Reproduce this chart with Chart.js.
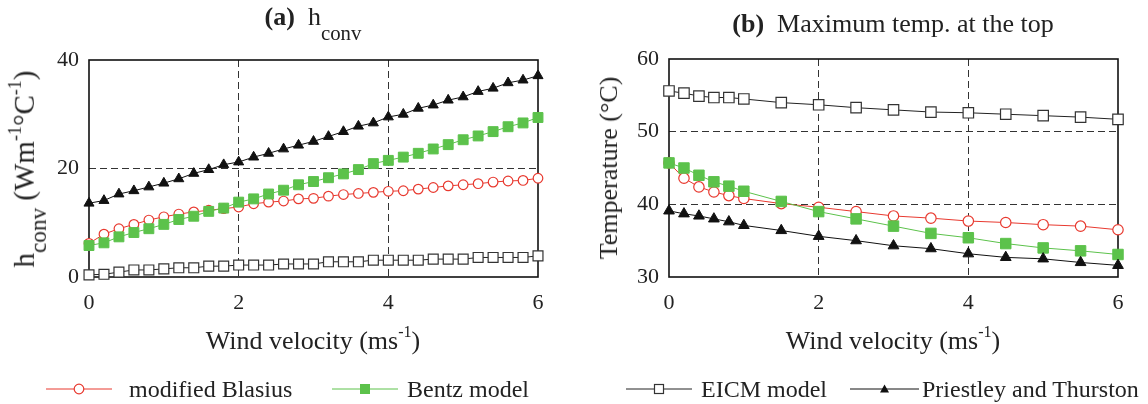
<!DOCTYPE html>
<html>
<head>
<meta charset="utf-8">
<script src="https://cdn.jsdelivr.net/npm/chart.js@4.4.0/dist/chart.umd.min.js"></script>
<style>
  body { margin: 0; width: 1148px; height: 404px; background: #fff; position: relative; overflow: hidden;
         font-family: "Liberation Serif", "Times New Roman", serif; color: #222; }
  canvas { position: absolute; top: 0; }
  .t { position: absolute; white-space: nowrap; line-height: 1; transform: translate(-50%, -50%); }
  .title { font-size: 26px; }
  .title sub { vertical-align: -0.75em; }
  .axt { font-size: 26px; }
  .ylab { font-size: 29px; }
  .rot { transform: translate(-50%, -50%) rotate(-90deg); }
  .leg { position: absolute; top: 389px; font-size: 24px; white-space: nowrap; line-height: 1; transform: translateY(-50%); }
  .mk { position: absolute; top: 382px; }
  sub { font-size: 0.8em; vertical-align: -0.5em; }
  sup { font-size: 0.62em; vertical-align: 0.75em; }
</style>
</head>
<body>
<canvas id="chartA" width="574" height="404" style="left:0"></canvas>
<canvas id="chartB" width="574" height="404" style="left:574px"></canvas>

<div class="t title" style="left:313px;top:24px"><b>(a)</b>&nbsp; h<sub>conv</sub></div>
<div class="t title" style="left:893px;top:24px"><b>(b)</b>&nbsp; Maximum temp. at the top</div>
<div class="t axt" style="left:313px;top:339px">Wind velocity (ms<sup>-1</sup>)</div>
<div class="t axt" style="left:893px;top:339px">Wind velocity (ms<sup>-1</sup>)</div>
<div class="t ylab rot" style="left:28px;top:169px">h<sub>conv</sub> (Wm<sup>-1</sup>°C<sup>-1</sup>)</div>
<div class="t axt rot" style="left:609px;top:168px">Temperature (°C)</div>

<svg class="mk" style="left:46px" width="66" height="14"><line x1="0" y1="7" x2="66" y2="7" stroke="#e8392f" stroke-width="1"/><circle cx="33" cy="7" r="4.8" fill="#fff" stroke="#e8392f" stroke-width="1.2"/></svg>
<div class="leg" style="left:129px">modified Blasius</div>
<svg class="mk" style="left:332px" width="66" height="14"><line x1="0" y1="7" x2="66" y2="7" stroke="#5cc24b" stroke-width="1"/><rect x="28" y="2" width="10" height="10" fill="#5cc24b"/></svg>
<div class="leg" style="left:407px">Bentz model</div>
<svg class="mk" style="left:626px" width="66" height="14"><line x1="0" y1="7" x2="66" y2="7" stroke="#222" stroke-width="1"/><rect x="28.5" y="2.5" width="9" height="9" fill="#fff" stroke="#333" stroke-width="1.2"/></svg>
<div class="leg" style="left:701px">EICM model</div>
<svg class="mk" style="left:850px" width="69" height="14"><line x1="0" y1="7" x2="69" y2="7" stroke="#111" stroke-width="1"/><polygon points="34.5,2.5 39,10.5 30,10.5" fill="#111"/></svg>
<div class="leg" style="left:922px">Priestley and Thurston</div>

<script>
// (a) h_conv vs wind velocity
var velA = [0, 0.2, 0.4, 0.6, 0.8, 1.0, 1.2, 1.4, 1.6, 1.8, 2.0, 2.2, 2.4, 2.6, 2.8, 3.0,
            3.2, 3.4, 3.6, 3.8, 4.0, 4.2, 4.4, 4.6, 4.8, 5.0, 5.2, 5.4, 5.6, 5.8, 6.0];
var blasiusA = [6.2, 7.9, 8.9, 9.7, 10.5, 11.1, 11.6, 12.0, 12.3, 12.6, 12.9, 13.5, 13.8, 14.0, 14.4, 14.5,
                14.9, 15.2, 15.4, 15.6, 15.8, 15.9, 16.2, 16.5, 16.8, 17.0, 17.2, 17.5, 17.7, 17.8, 18.2];
var bentzA = [5.8, 6.3, 7.4, 8.2, 8.9, 9.7, 10.6, 11.2, 12.1, 12.7, 13.8, 14.4, 15.3, 16.0, 17.0, 17.6,
              18.3, 19.0, 19.8, 20.9, 21.5, 22.1, 22.8, 23.6, 24.4, 25.3, 26.0, 26.8, 27.7, 28.4, 29.4];
var eicmA = [0.4, 0.5, 0.9, 1.3, 1.3, 1.5, 1.7, 1.7, 2.0, 2.0, 2.2, 2.2, 2.2, 2.4, 2.4, 2.4,
             2.8, 2.8, 2.8, 3.1, 3.1, 3.1, 3.1, 3.3, 3.3, 3.3, 3.6, 3.6, 3.6, 3.6, 3.9];
var priestleyA = [13.6, 14.1, 15.3, 15.9, 16.6, 17.3, 18.1, 19.1, 19.8, 20.7, 21.2, 22.1, 22.8, 23.6, 24.3, 25.0,
                  25.9, 26.8, 27.8, 28.4, 29.5, 30.0, 31.1, 31.7, 32.6, 33.2, 34.2, 34.8, 35.8, 36.3, 37.1];

// (b) maximum temperature at the top
var velB = [0, 0.2, 0.4, 0.6, 0.8, 1.0, 1.5, 2.0, 2.5, 3.0, 3.5, 4.0, 4.5, 5.0, 5.5, 6.0];
var blasiusB = [45.7, 43.6, 42.4, 41.7, 41.2, 40.8, 40.1, 39.6, 39.0, 38.4, 38.1, 37.7, 37.5, 37.2, 37.0, 36.5];
var bentzB = [45.7, 45.0, 44.0, 43.1, 42.5, 41.8, 40.4, 39.0, 38.0, 37.0, 36.0, 35.4, 34.6, 34.0, 33.6, 33.1];
var eicmB = [55.6, 55.3, 54.9, 54.7, 54.7, 54.5, 54.0, 53.7, 53.3, 53.0, 52.7, 52.6, 52.4, 52.2, 52.0, 51.7];
var priestleyB = [39.1, 38.7, 38.4, 38.0, 37.6, 37.1, 36.4, 35.6, 35.0, 34.3, 33.9, 33.2, 32.7, 32.5, 32.0, 31.6];

var xTicks = [0, 2, 4, 6];
var yRangeA = [0, 40, 20];
var yRangeB = [30, 60, 10];

var FONT = '"Liberation Serif", "Times New Roman", serif';

function pts(xs, ys) {
  return ys.map(function (v, i) { return { x: xs[i], y: v }; });
}

function seriesFor(xs, blasius, bentz, eicm, priestley, big) {
  return [
    { label: 'Priestley and Thurston', data: pts(xs, priestley), order: 0,
      borderColor: '#111', borderWidth: 1, pointStyle: 'triangle', pointRadius: big ? 6.2 : 5.8,
      pointBackgroundColor: '#111', pointBorderColor: '#111', pointBorderWidth: 1 },
    { label: 'Bentz model', data: pts(xs, bentz), order: 1,
      borderColor: '#5cc24b', borderWidth: 1, pointStyle: 'rect', pointRadius: big ? 7.4 : 7,
      pointBackgroundColor: '#5cc24b', pointBorderColor: '#5cc24b', pointBorderWidth: 1 },
    { label: 'modified Blasius', data: pts(xs, blasius), order: 2,
      borderColor: '#e8392f', borderWidth: 1, pointStyle: 'circle', pointRadius: big ? 5.2 : 4.8,
      pointBackgroundColor: '#fff', pointBorderColor: '#e8392f', pointBorderWidth: 1.2 },
    { label: 'EICM model', data: pts(xs, eicm), order: 3,
      borderColor: '#222', borderWidth: 1, pointStyle: 'rect', pointRadius: big ? 7.4 : 7,
      pointBackgroundColor: '#fff', pointBorderColor: '#333', pointBorderWidth: 1.2 }
  ];
}

// solid frame round the plot area
var framePlugin = {
  id: 'frame',
  beforeDatasetsDraw: function (chart) {
    var a = chart.chartArea, c = chart.ctx;
    c.save();
    c.strokeStyle = '#111';
    c.lineWidth = 1.6;
    c.strokeRect(a.left, a.top, a.right - a.left, a.bottom - a.top);
    c.restore();
  }
};

function makeChart(id, datasets, yRange, pad, yWidth) {
  var edge = function (lo, hi) {
    return function (ctx) {
      if (!ctx.tick) return 'rgba(0,0,0,0)';
      return (ctx.tick.value === lo || ctx.tick.value === hi) ? 'rgba(0,0,0,0)' : '#333';
    };
  };
  return new Chart(document.getElementById(id), {
    type: 'line',
    data: { datasets: datasets },
    options: {
      responsive: false,
      animation: false,
      events: [],
      layout: { padding: pad },
      elements: { line: { tension: 0 } },
      datasets: { line: { clip: false } },
      plugins: { legend: { display: false }, tooltip: { enabled: false } },
      scales: {
        x: {
          type: 'linear', min: xTicks[0], max: xTicks[xTicks.length - 1],
          afterBuildTicks: function (s) { s.ticks = xTicks.map(function (v) { return { value: v }; }); },
          afterFit: function (s) { s.height = 40; },
          ticks: { padding: 13, color: '#222', font: { family: FONT, size: 22 } },
          grid: { color: edge(0, 6), lineWidth: 1, drawTicks: false },
          border: { display: false, dash: [7, 4] }
        },
        y: {
          min: yRange[0], max: yRange[1],
          afterFit: function (s) { s.width = yWidth; },
          ticks: { stepSize: yRange[2], padding: 10, color: '#222', font: { family: FONT, size: 22 } },
          grid: { color: edge(yRange[0], yRange[1]), lineWidth: 1, drawTicks: false },
          border: { display: false, dash: [7, 4] }
        }
      }
    },
    plugins: [framePlugin]
  });
}

makeChart('chartA', seriesFor(velA, blasiusA, bentzA, eicmA, priestleyA, false), yRangeA,
          { top: 60, right: 36, bottom: 87, left: 0 }, 89);
makeChart('chartB', seriesFor(velB, blasiusB, bentzB, eicmB, priestleyB, true), yRangeB,
          { top: 59, right: 30, bottom: 87, left: 0 }, 95);
</script>
</body>
</html>
